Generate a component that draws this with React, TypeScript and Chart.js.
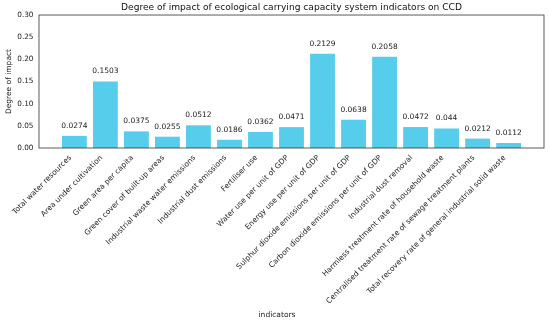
import React, { useEffect, useRef } from "react";
import { Chart, registerables } from "chart.js";

Chart.register(...registerables);

const categories: string[] = [
  "Total water resources",
  "Area under cultivation",
  "Green area per capita",
  "Green cover of built-up areas",
  "Industrial waste water emissions",
  "Industrial dust emissions",
  "Fertiliser use",
  "Water use per unit of GDP",
  "Energy use per unit of GDP",
  "Sulphur dioxide emissions per unit of GDP",
  "Carbon dioxide emissions per unit of GDP",
  "Industrial dust removal",
  "Harmless treatment rate of household waste",
  "Centralised treatment rate of sewage treatment plants",
  "Total recovery rate of general industrial solid waste",
];

const values: number[] = [
  0.0274, 0.1503, 0.0375, 0.0255, 0.0512, 0.0186, 0.0362, 0.0471, 0.2129,
  0.0638, 0.2058, 0.0472, 0.044, 0.0212, 0.0112,
];

const valueLabels: string[] = [
  "0.0274", "0.1503", "0.0375", "0.0255", "0.0512", "0.0186", "0.0362",
  "0.0471", "0.2129", "0.0638", "0.2058", "0.0472", "0.044", "0.0212", "0.0112",
];

const yTicks: number[] = [0, 0.05, 0.1, 0.15, 0.2, 0.25, 0.3];

const FONT = "'DejaVu Sans', sans-serif";
const BAR_COLOR = "#56CDEA";
const X_TITLE = "indicators";

const valueLabelPlugin = {
  id: "valueLabels",
  afterDatasetsDraw(chart: any) {
    const ctx = chart.ctx;
    const meta = chart.getDatasetMeta(0);
    ctx.save();
    ctx.font = `7.5px ${FONT}`;
    ctx.fillStyle = "#222";
    ctx.textAlign = "center";
    ctx.textBaseline = "alphabetic";
    meta.data.forEach((el: any, i: number) => {
      ctx.fillText(valueLabels[i], el.x, el.y - 8);
    });
    ctx.restore();
  },
};

const framePlugin = {
  id: "frame",
  afterDraw(chart: any) {
    const { ctx, chartArea } = chart;
    ctx.save();
    ctx.strokeStyle = "#333";
    ctx.lineWidth = 0.8;
    ctx.strokeRect(chartArea.left, chartArea.top, chartArea.right - chartArea.left, chartArea.bottom - chartArea.top);
    ctx.font = `7.5px ${FONT}`;
    ctx.fillStyle = "#222";
    ctx.textAlign = "center";
    ctx.textBaseline = "middle";
    ctx.fillText(X_TITLE, chart.width / 2 + 2, chart.height - 8);
    ctx.restore();
  },
};

export default function App() {
  const ref = useRef<HTMLCanvasElement>(null);
  useEffect(() => {
    if (!ref.current) return;
    const n = categories.length;
    const margin = 0.05 * (n - 1 + 0.8);
    const chart = new Chart(ref.current, {
      type: "bar",
      data: {
        datasets: [
          {
            data: values.map((v, i) => ({ x: i, y: v })),
            backgroundColor: BAR_COLOR,
            borderWidth: 0,
            barPercentage: 0.8,
            categoryPercentage: 1,
          },
        ],
      },
      plugins: [valueLabelPlugin, framePlugin],
      options: {
        responsive: false,
        animation: false,
        devicePixelRatio: 1,
        layout: { padding: { left: 0, right: 6, top: 0, bottom: 0 } },
        plugins: {
          legend: { display: false },
          tooltip: { enabled: false },
          title: {
            display: true,
            text: "Degree of impact of ecological carrying capacity system indicators on CCD",
            fullSize: false,
            color: "#111",
            font: { family: FONT, size: 9.1, weight: "normal" },
            padding: { top: 2, bottom: 2.1 },
          },
        },
        scales: {
          x: {
            type: "linear",
            offset: false,
            min: -0.4 - margin,
            max: n - 1 + 0.4 + margin,
            grid: { display: false, offset: false, drawTicks: true, tickLength: 3.5, tickColor: "#333", drawOnChartArea: false },
            border: { display: false },
            afterBuildTicks(scale: any) {
              scale.ticks = categories.map((_, i) => ({ value: i }));
            },
            afterFit(scale: any) {
              scale.height = 175;
            },
            ticks: {
              autoSkip: false,
              maxRotation: 45,
              minRotation: 45,
              padding: 2,
              labelOffset: -4,
              color: "#222",
              font: { family: FONT, size: 7.5 },
              callback: (v: any) => categories[Math.round(Number(v))] ?? "",
            },
          },
          y: {
            min: 0,
            max: 0.3,
            grid: { display: false, drawOnChartArea: false, tickLength: 3.5, tickColor: "#333" },
            border: { display: false },
            afterBuildTicks(scale: any) {
              scale.ticks = yTicks.map((v) => ({ value: v }));
            },
            afterFit(scale: any) {
              scale.width = 39;
            },
            ticks: {
              padding: 2,
              color: "#222",
              font: { family: FONT, size: 7.3 },
              callback: (v: any) => Number(v).toFixed(2),
            },
            title: {
              display: true,
              text: "Degree of impact",
              color: "#222",
              font: { family: FONT, size: 7.5 },
              padding: { top: 5, bottom: 0 },
            },
          },
        },
      },
    });
    return () => chart.destroy();
  }, []);
  return (
    <div style={{ position: "fixed", left: 0, top: 0, width: 550, height: 323, background: "#fff" }}>
      <canvas ref={ref} width={550} height={323} />
    </div>
  );
}
